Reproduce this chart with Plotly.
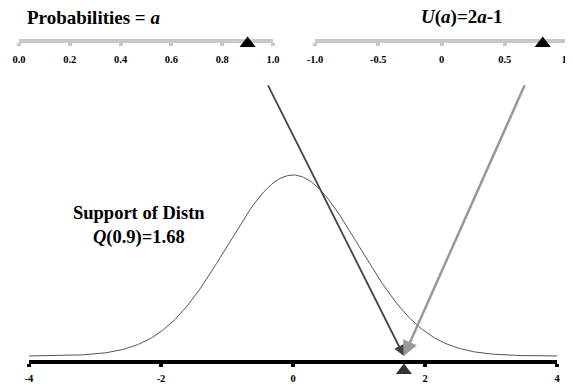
import numpy as np
import plotly.graph_objects as go

# ---- data ----
prob_a = 0.9                 # probability level a
u_a = 2 * prob_a - 1         # U(a) = 2a - 1 = 0.8
quantile = 1.68              # Q(0.9)
support_ticks = [-4, -2, 0, 2, 4]
prob_ticks = [0.0, 0.2, 0.4, 0.6, 0.8, 1.0]
prob_ticklabels = ["0.0", "0.2", "0.4", "0.6", "0.8", "1.0"]
u_ticks = [-1.0, -0.5, 0.0, 0.5, 1.0]
u_ticklabels = ["-1.0", "-0.5", "0", "0.5", "1.0"]
arrow_tail_x = [-0.39, 3.52]  # where the arrows start, in support units
arrow_tail_y = 0.60           # arrow start height, density units

xs = np.linspace(-4, 4, 401)
density = np.exp(-xs ** 2 / 2) / np.sqrt(2 * np.pi)

W, H = 573, 385
PAGE = 8  # page body margin in the browser
FONT = "Liberation Serif, Times New Roman, serif"


def fx(px):
    return (px - PAGE) / W


def fy(py):
    return (H + PAGE - py) / H


def bold(labels):
    return ["<b>%s</b>" % s for s in labels]


# density axis: 0 at screen y=356, peak (0.3989) at screen y=175
base_f, peak_f = fy(356), fy(175)
units = (1 / np.sqrt(2 * np.pi)) / (peak_f - base_f)
y_lo = -base_f * units
y_hi = y_lo + units

# small marker-holding axes for the two top scales (1 unit = BAND px)
top_frac = fy(41)
BAND = 12.0
band_f = BAND / H

fig = go.Figure()
fig.add_trace(go.Scatter(x=xs, y=density, mode="lines",
                         line=dict(color="#555555", width=1),
                         xaxis="x", yaxis="y", hoverinfo="skip"))
# triangle markers
tri = dict(symbol="triangle-up", size=14, color="#000000")
fig.add_trace(go.Scatter(x=[prob_a], y=[-2.5 / BAND], mode="markers", marker=tri,
                         cliponaxis=False, xaxis="x2", yaxis="y2"))
fig.add_trace(go.Scatter(x=[u_a], y=[-2.5 / BAND], mode="markers", marker=tri,
                         cliponaxis=False, xaxis="x3", yaxis="y3"))
fig.add_trace(go.Scatter(x=[quantile], y=[-14.5 / 181 / np.sqrt(2 * np.pi)],
                         mode="markers", cliponaxis=False,
                         marker=dict(symbol="triangle-up", size=14, color="#333333"),
                         xaxis="x", yaxis="y"))

tickfont = dict(family=FONT, size=10.5, color="#000000")
gray = "#c8c8c8"

common = dict(showgrid=False, zeroline=False, fixedrange=True, automargin=False)

fig.update_layout(
    width=W, height=H,
    margin=dict(l=0, r=0, t=0, b=0, autoexpand=False),
    paper_bgcolor="white", plot_bgcolor="rgba(0,0,0,0)",
    showlegend=False,
    xaxis=dict(domain=[fx(29), fx(557)], range=[-4, 4], anchor="free",
               position=fy(362), showline=True, linecolor="#000000",
               linewidth=4, ticks="outside", ticklen=3, tickwidth=4,
               tickcolor="#000000", tickvals=support_ticks,
               ticktext=bold([str(t) for t in support_ticks]), tickfont=tickfont,
               ticklabelstandoff=2, **common),
    yaxis=dict(domain=[0, 1], range=[y_lo, y_hi], visible=False,
               anchor="x", **common),
    xaxis2=dict(domain=[fx(19), fx(273)], range=[0, 1], anchor="free",
                position=top_frac, showline=True, linecolor=gray,
                linewidth=4, ticks="outside", ticklen=3, tickwidth=4,
                tickcolor=gray, tickvals=prob_ticks, ticktext=bold(prob_ticklabels),
                tickfont=tickfont, ticklabelstandoff=4, layer="below traces",
                **common),
    yaxis2=dict(domain=[top_frac - band_f, top_frac + band_f], range=[-1, 1],
                visible=False, anchor="x2", **common),
    xaxis3=dict(domain=[fx(315), fx(568)], range=[-1, 1], anchor="free",
                position=top_frac, showline=True, linecolor=gray,
                linewidth=4, ticks="outside", ticklen=3, tickwidth=4,
                tickcolor=gray, tickvals=u_ticks, ticktext=bold(u_ticklabels),
                tickfont=tickfont, ticklabelstandoff=4, layer="below traces",
                **common),
    yaxis3=dict(domain=[top_frac - band_f, top_frac + band_f], range=[-1, 1],
                visible=False, anchor="x3", **common),
)

for tx, col, wd in [(arrow_tail_x[0], "#444444", 1.8), (arrow_tail_x[1], "#999999", 2.5)]:
    fig.add_annotation(x=quantile, y=0, xref="x", yref="y",
                       ax=tx, ay=arrow_tail_y, axref="x", ayref="y",
                       showarrow=True, arrowhead=2, arrowsize=1.2,
                       arrowwidth=wd, arrowcolor=col, text="")

title_font = dict(family=FONT, size=19, color="#000000")
fig.add_annotation(x=fx(93), y=fy(17), xref="paper", yref="paper",
                   xanchor="center", yanchor="middle",
                   text="<b>Probabilities = <i>a</i></b>", showarrow=False,
                   font=title_font)
fig.add_annotation(x=fx(462), y=fy(17), xref="paper", yref="paper",
                   xanchor="center", yanchor="middle",
                   text="<b><i>U</i>(<i>a</i>)=2<i>a</i>-1</b>", showarrow=False,
                   font=title_font)
fig.add_annotation(x=fx(139), y=fy(225), xref="paper", yref="paper",
                   xanchor="center", yanchor="middle",
                   text="<b>Support of Distn<br><i>Q</i>(0.9)=1.68</b>",
                   showarrow=False, align="center",
                   font=dict(family=FONT, size=18.5, color="#000000"))

fig.write_html("out.html")
